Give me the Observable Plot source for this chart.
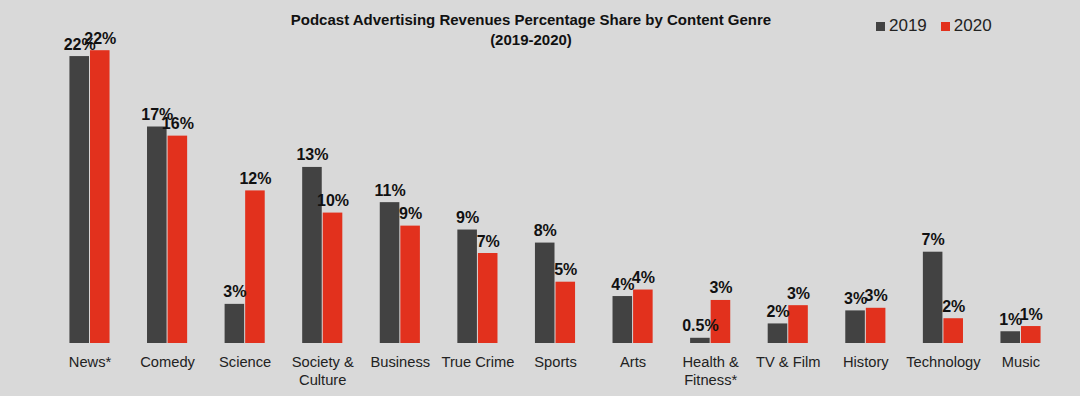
<!DOCTYPE html>
<html>
<head>
<meta charset="utf-8">
<script src="https://cdn.jsdelivr.net/npm/d3@7"></script>
<script src="https://cdn.jsdelivr.net/npm/@observablehq/plot@0.6"></script>
<style>
  html, body { margin: 0; padding: 0; background: #d9d9d9; }
  #wrap { position: relative; width: 1080px; height: 396px; background: #d9d9d9; font-family: "Liberation Sans", Arial, sans-serif; overflow: hidden; }
  #title { position: absolute; left: 531px; top: 10px; transform: translateX(-50%); text-align: center; font-weight: bold; font-size: 15px; line-height: 20px; color: #111; white-space: nowrap; }
  #legend { position: absolute; left: 876px; top: 16px; font-size: 17px; color: #222; display: flex; align-items: center; }
  #legend .sw { display: inline-block; width: 9px; height: 9px; margin-right: 4px; }
  #legend .item { display: flex; align-items: center; margin-right: 14px; }
  #chart { position: absolute; left: 0; top: 0; }
</style>
</head>
<body>
<div id="wrap">
  <div id="chart"></div>
  <div id="title">Podcast Advertising Revenues Percentage Share by Content Genre<br>(2019-2020)</div>
  <div id="legend"></div>
</div>
<script>
const genres = ["News*", "Comedy", "Science", "Society &\nCulture", "Business", "True Crime", "Sports", "Arts", "Health &\nFitness*", "TV & Film", "History", "Technology", "Music"];
const years = ["2019", "2020"];
const values2019 = [22.0, 16.6, 3.0, 13.5, 10.8, 8.7, 7.7, 3.6, 0.4, 1.5, 2.5, 7.0, 0.9];
const values2020 = [22.45, 15.9, 11.7, 10.0, 9.0, 6.9, 4.7, 4.1, 3.3, 2.9, 2.7, 1.9, 1.3];
const labels2019 = ["22%", "17%", "3%", "13%", "11%", "9%", "8%", "4%", "0.5%", "2%", "3%", "7%", "1%"];
const labels2020 = ["22%", "16%", "12%", "10%", "9%", "7%", "5%", "4%", "3%", "3%", "3%", "2%", "1%"];
const colors = ["#424242", "#e2311d"];

const rows = [];
genres.forEach((g, i) => {
  rows.push({genre: g, year: years[0], value: values2019[i], label: labels2019[i]});
  rows.push({genre: g, year: years[1], value: values2020[i], label: labels2020[i]});
});

const font = "'Liberation Sans', Arial, sans-serif";
const chart = Plot.plot({
  width: 1080,
  height: 396,
  marginTop: 30,
  marginBottom: 53,
  marginLeft: 51,
  marginRight: 21,
  style: {background: "transparent", fontFamily: font},
  fx: {domain: genres, range: [50.7, 1059.3], round: false, paddingInner: 0.47, paddingOuter: 0.235, label: null},
  x: {domain: years, padding: 0, round: false, axis: null},
  y: {domain: [0, 24], axis: null},
  color: {domain: years, range: colors},
  marks: [
    Plot.barY(rows, {fx: "genre", x: "year", y: "value", fill: "year", insetRight: 0.5, insetLeft: 0.5}),
    Plot.text(rows, {fx: "genre", x: "year", y: "value", text: "label", lineAnchor: "bottom", dy: -7, fontWeight: "bold", fontSize: 16, fill: "#111"}),
    Plot.axisFx({anchor: "bottom", tickSize: 0, tickPadding: 11, fontSize: 14.7, lineHeight: 1.2, label: null, fill: "#222"})
  ]
});
document.getElementById("chart").appendChild(chart);

const legend = document.getElementById("legend");
years.forEach((y, i) => {
  const item = document.createElement("span");
  item.className = "item";
  const sw = document.createElement("span");
  sw.className = "sw";
  sw.style.background = colors[i];
  item.appendChild(sw);
  item.appendChild(document.createTextNode(y));
  legend.appendChild(item);
});
</script>
</body>
</html>
